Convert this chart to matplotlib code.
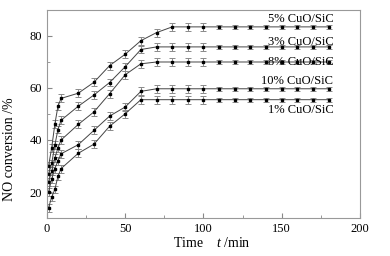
import matplotlib
matplotlib.use("Agg")
import matplotlib.pyplot as plt
from matplotlib.ticker import MultipleLocator

plt.rcParams['font.family'] = ['Liberation Serif', 'DejaVu Serif']
plt.rcParams['mathtext.fontset'] = 'custom'
plt.rcParams['mathtext.it'] = 'Liberation Serif:italic'
plt.rcParams['mathtext.rm'] = 'Liberation Serif'

# tiempo (min)
t = [1, 3, 5, 7, 9, 20, 30, 40, 50, 60, 70, 80, 90, 100,
     110, 120, 130, 140, 150, 160, 170, 180]

cu5 = [30, 37, 46, 53, 56, 58, 62.2, 68.6, 73, 78.2, 81.3, 83.5, 83.5, 83.5,
       83.5, 83.5, 83.5, 83.5, 83.5, 83.5, 83.5, 83.5]
cu3 = [27, 31, 38, 44, 47.6, 53, 57.3, 62.1, 68.2, 74.8, 75.8, 75.8, 75.8, 75.8,
       75.8, 75.8, 75.8, 75.8, 75.8, 75.8, 75.8, 75.8]
cu8 = [24, 28, 33, 37, 40, 46, 50.8, 57.8, 65.1, 69.3, 70, 70, 70, 70,
       70, 70, 70, 70, 70, 70, 70, 70]
cu10 = [20, 25, 29, 32, 34.7, 38.2, 43.7, 49.2, 52.7, 58.7, 59.7, 59.7, 59.7, 59.7,
        59.7, 59.7, 59.7, 59.7, 59.7, 59.7, 59.7, 59.7]
cu1 = [14, 18, 21, 26, 29, 34.9, 38.4, 45.3, 50.1, 55.5, 55.5, 55.5, 55.5, 55.5,
       55.5, 55.5, 55.5, 55.5, 55.5, 55.5, 55.5, 55.5]

err = [1.5, 1.5, 1.5, 1.5, 1.5, 1.5, 1.5, 1.5, 1.5, 1.5, 1.5, 1.5, 1.5, 1.5,
       0.7, 0.7, 0.7, 0.7, 0.7, 0.7, 0.7, 0.7]

series = [cu5, cu3, cu8, cu10, cu1]
etiquetas = ['5% CuO/SiC', '3% CuO/SiC', '8% CuO/SiC', '10% CuO/SiC', '1% CuO/SiC']
pos_y = [86.6, 77.6, 70.0, 62.6, 51.4]

fig = plt.figure(figsize=(3.9, 2.56), dpi=100)
ax = fig.add_axes([0.1205, 0.1484, 0.8025, 0.8126])

for s in series:
    ax.errorbar(t, s, yerr=err, fmt='-s', color='#444444', lw=0.7, ms=1.6,
                mfc='black', mec='black', ecolor='#8a8a8a', elinewidth=0.7,
                capsize=2, capthick=0.7)

for lab, y in zip(etiquetas, pos_y):
    ax.text(183, y, lab, ha='right', va='center', fontsize=9)

ax.set_xlim(0, 200)
ax.set_ylim(10, 90)
ax.xaxis.set_major_locator(MultipleLocator(50))
ax.xaxis.set_minor_locator(MultipleLocator(25))
ax.yaxis.set_major_locator(MultipleLocator(20))
ax.yaxis.set_minor_locator(MultipleLocator(10))
ax.tick_params(which='both', direction='in', labelsize=9, color='#888888')
ax.tick_params(which='major', length=3.5)
ax.tick_params(which='minor', length=2)
for sp in ax.spines.values():
    sp.set_color('#999999')
    sp.set_linewidth(0.8)

ax.set_ylabel('NO conversion /%', fontsize=10)
ax.yaxis.set_label_coords(-0.1, 0.33)
fig.text(0.543, 0.05, 'Time    $t$ /min', ha='center', va='center', fontsize=10)

fig.savefig('out.png', dpi=100)
